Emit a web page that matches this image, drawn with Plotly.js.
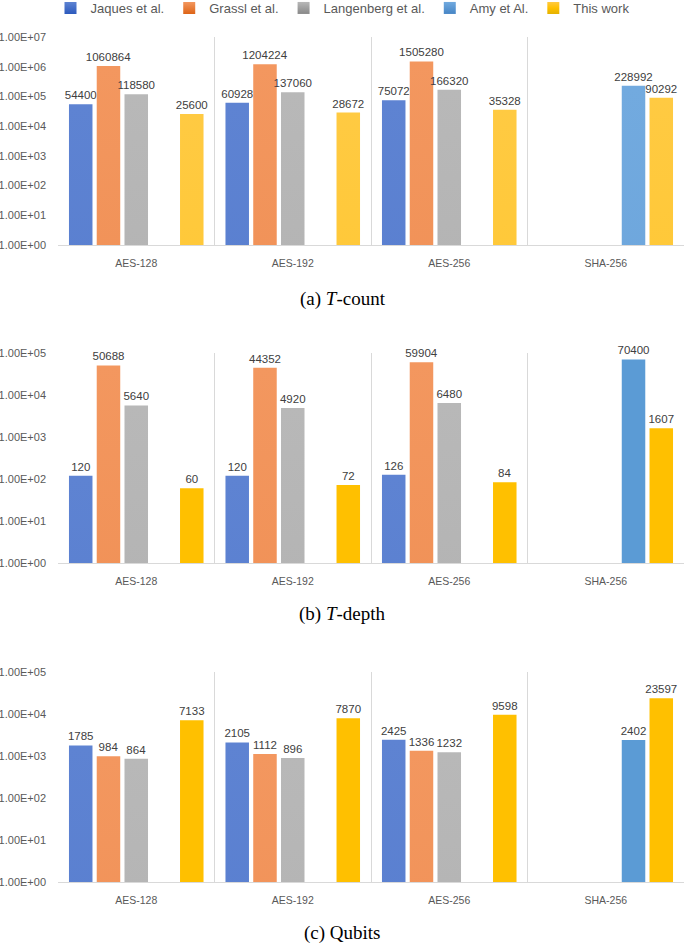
<!DOCTYPE html>
<html><head><meta charset="utf-8">
<script src="https://cdn.plot.ly/plotly-3.0.1.min.js"></script>
<style>
html,body{margin:0;padding:0;background:#fff}
</style>
</head><body>
<svg width="1" height="1" style="position:absolute;left:0;top:0">
  <defs>
    <linearGradient id="gJaq" x1="0" y1="0" x2="0" y2="1"><stop offset="0" stop-color="#5E83D2"/><stop offset="1" stop-color="#2C5ABD"/></linearGradient>
    <linearGradient id="gGra" x1="0" y1="0" x2="0" y2="1"><stop offset="0" stop-color="#F3975F"/><stop offset="1" stop-color="#DD6417"/></linearGradient>
    <linearGradient id="gLan" x1="0" y1="0" x2="0" y2="1"><stop offset="0" stop-color="#B8B8B8"/><stop offset="1" stop-color="#888888"/></linearGradient>
    <linearGradient id="gAmy" x1="0" y1="0" x2="0" y2="1"><stop offset="0" stop-color="#72AADF"/><stop offset="1" stop-color="#4685C5"/></linearGradient>
    <linearGradient id="gThis" x1="0" y1="0" x2="0" y2="1"><stop offset="0" stop-color="#FFCA42"/><stop offset="0.5" stop-color="#FFC000"/><stop offset="1" stop-color="#E4B200"/></linearGradient>
  </defs>
</svg>
<div id="chart" style="width:685px;height:944px"></div>
<script>
// ---------- data ----------
const categories = ['AES-128', 'AES-192', 'AES-256', 'SHA-256'];
const seriesNames = ['Jaques et al.', 'Grassl et al.', 'Langenberg et al.', 'Amy et Al.', 'This work'];

// (a) T-count
const tcountJaques     = [54400, 60928, 75072, null];
const tcountGrassl     = [1060864, 1204224, 1505280, null];
const tcountLangenberg = [118580, 137060, 166320, null];
const tcountAmy        = [null, null, null, 228992];
const tcountThisWork   = [25600, 28672, 35328, 90292];

// (b) T-depth
const tdepthJaques     = [120, 120, 126, null];
const tdepthGrassl     = [50688, 44352, 59904, null];
const tdepthLangenberg = [5640, 4920, 6480, null];
const tdepthAmy        = [null, null, null, 70400];
const tdepthThisWork   = [60, 72, 84, 1607];

// (c) Qubits
const qubitsJaques     = [1785, 2105, 2425, null];
const qubitsGrassl     = [984, 1112, 1336, null];
const qubitsLangenberg = [864, 896, 1232, null];
const qubitsAmy        = [null, null, null, 2402];
const qubitsThisWork   = [7133, 7870, 9598, 23597];

const tickValsA = [1, 10, 100, 1000, 10000, 100000, 1000000, 10000000];
const tickTextA = ['1.00E+00', '1.00E+01', '1.00E+02', '1.00E+03', '1.00E+04', '1.00E+05', '1.00E+06', '1.00E+07'];
const tickValsBC = [1, 10, 100, 1000, 10000, 100000];
const tickTextBC = ['1.00E+00', '1.00E+01', '1.00E+02', '1.00E+03', '1.00E+04', '1.00E+05'];

const captions = ['(a) <i>T</i>-count', '(b) <i>T</i>-depth', '(c) Qubits'];

// ---------- styles ----------
// panel (a): all series shaded; panels (b),(c): Amy and This work flat
const colorsA  = ['#4472C4', '#ED7D31', '#A5A5A5', '#5B9BD6', '#FFC001'];
const colorsBC = ['#4472C4', '#ED7D31', '#A5A5A5', '#5B9BD5', '#FFC000'];
const gradMap = {
  'rgb(68, 114, 196)': 'gJaq', 'rgb(237, 125, 49)': 'gGra', 'rgb(165, 165, 165)': 'gLan',
  'rgb(91, 155, 214)': 'gAmy', 'rgb(255, 192, 1)': 'gThis'
};

const panels = [
  {x: 'x', y: 'y', data: [tcountJaques, tcountGrassl, tcountLangenberg, tcountAmy, tcountThisWork], colors: colorsA},
  {x: 'x2', y: 'y2', data: [tdepthJaques, tdepthGrassl, tdepthLangenberg, tdepthAmy, tdepthThisWork], colors: colorsBC},
  {x: 'x3', y: 'y3', data: [qubitsJaques, qubitsGrassl, qubitsLangenberg, qubitsAmy, qubitsThisWork], colors: colorsBC}
];

const FONT = 'Liberation Sans, Arial, sans-serif';
const traces = [];
panels.forEach((p, pi) => {
  p.data.forEach((vals, si) => {
    traces.push({
      type: 'bar',
      name: seriesNames[si],
      x: categories,
      y: vals,
      xaxis: p.x, yaxis: p.y,
      legendgroup: seriesNames[si],
      showlegend: pi === 0,
      marker: {color: p.colors[si], line: {width: 0}},
      text: vals.map(v => v == null ? '' : String(v)),
      textposition: 'outside',
      constraintext: 'none',
      cliponaxis: false,
      textfont: {family: FONT, size: 11.5, color: '#404040'},
      hoverinfo: 'skip'
    });
  });
});

const H = 944;
function dom(top, bottom) { return [1 - bottom / H, 1 - top / H]; }
const xdom = [58 / 685, 684 / 685];

function xAxis(anchor) {
  return {
    domain: xdom, anchor: anchor, type: 'category',
    tickson: 'boundaries', showgrid: true, gridcolor: '#d9d9d9', gridwidth: 1,
    showline: true, linecolor: '#d9d9d9', linewidth: 1,
    ticks: '', ticklabelstandoff: 8,
    tickfont: {family: FONT, size: 10.5, color: '#595959'},
    fixedrange: true
  };
}
function yAxis(anchor, d, range, tv, tt) {
  return {
    domain: d, anchor: anchor, type: 'log', range: range,
    tickvals: tv, ticktext: tt, showgrid: false, zeroline: false,
    showline: false, ticks: '', ticklabelstandoff: 11,
    tickfont: {family: FONT, size: 11, color: '#595959'},
    fixedrange: true
  };
}

const layout = {
  width: 685, height: 944,
  margin: {l: 0, r: 0, t: 0, b: 0, autoexpand: false},
  paper_bgcolor: '#ffffff', plot_bgcolor: '#ffffff',
  barmode: 'group', bargap: 0.113, bargroupgap: 0.153,
  showlegend: true,
  legend: {
    orientation: 'h', x: 0.5, xanchor: 'center', y: 1 - 8 / H, yanchor: 'middle',
    font: {family: FONT, size: 13, color: '#595959'},
    itemclick: false, itemdoubleclick: false
  },
  xaxis: xAxis('y'),
  xaxis2: xAxis('y2'),
  xaxis3: xAxis('y3'),
  yaxis: yAxis('x', dom(37, 245), [0, 7], tickValsA, tickTextA),
  yaxis2: yAxis('x2', dom(353, 563), [0, 5], tickValsBC, tickTextBC),
  yaxis3: yAxis('x3', dom(672, 882), [0, 5], tickValsBC, tickTextBC),
  annotations: captions.map((c, i) => ({
    text: c, xref: 'paper', yref: 'paper', x: 0.5, xanchor: 'center',
    y: 1 - [299, 614, 933][i] / H, yanchor: 'middle', showarrow: false,
    font: {family: 'Liberation Serif, Times New Roman, serif', size: 19, color: '#000000'}
  }))
};

function shade() {
  document.querySelectorAll('#chart .barlayer path, #chart .legend path').forEach(p => {
    const id = gradMap[getComputedStyle(p).fill];
    if (id) p.style.setProperty('fill', 'url(#' + id + ')', 'important');
  });
}

Plotly.newPlot('chart', traces, layout, {displayModeBar: false, staticPlot: true}).then(shade);
</script>
</body></html>
